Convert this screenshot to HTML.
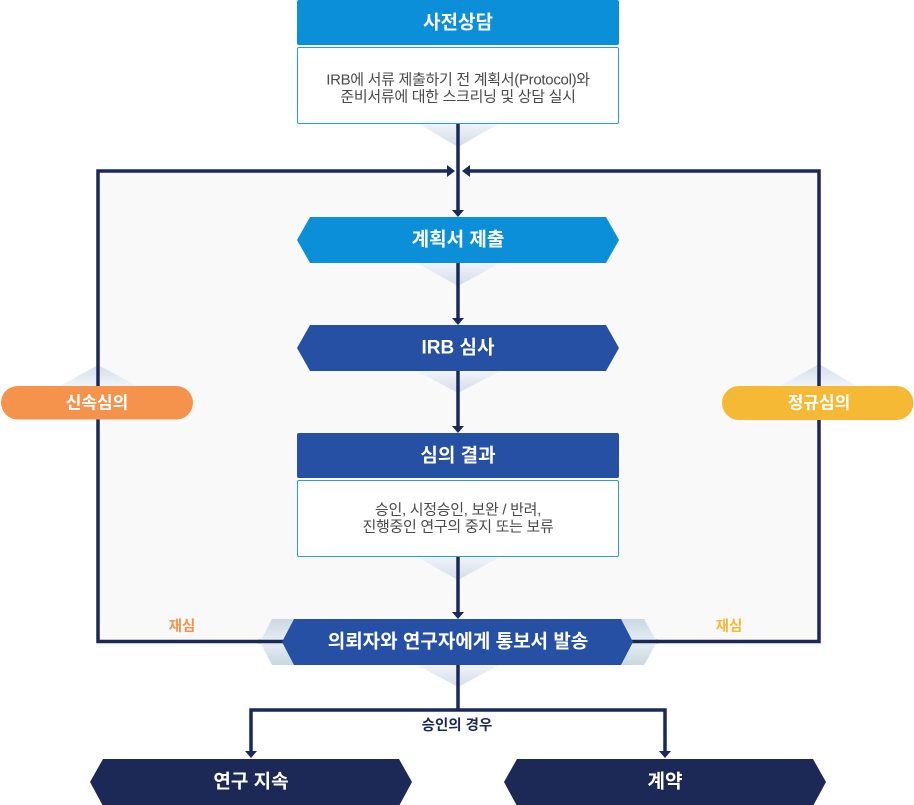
<!DOCTYPE html>
<html><head><meta charset="utf-8"><style>
html,body{margin:0;padding:0;background:#fff;}
svg{display:block;}
text{font-family:"Liberation Sans","Noto Sans CJK KR",sans-serif;}
.h{font-weight:bold;font-size:19px;fill:#fff;}
.b{font-size:15px;fill:#4a4a4a;letter-spacing:-0.3px;}
</style></head><body>
<svg width="914" height="805" viewBox="0 0 914 805" xmlns="http://www.w3.org/2000/svg">
<defs>
<linearGradient id="sh" x1="0" y1="0" x2="0" y2="1">
<stop offset="0" stop-color="#f1f4f9"/><stop offset="1" stop-color="#d3dcea"/>
</linearGradient>
<linearGradient id="sh2" x1="0" y1="1" x2="0" y2="0">
<stop offset="0" stop-color="#f1f4f9"/><stop offset="1" stop-color="#d3dcea"/>
</linearGradient>
<linearGradient id="chev" x1="0" y1="0" x2="0" y2="1">
<stop offset="0" stop-color="#c9d8e2"/><stop offset="0.5" stop-color="#e6eef3"/><stop offset="1" stop-color="#c9d8e2"/>
</linearGradient>
</defs>

<!-- big loop background -->
<rect x="98" y="171" width="721" height="470" fill="#f9f9f9"/>

<!-- shadows -->
<polygon points="417,123 500,123 458,147" fill="url(#sh)"/>
<polygon points="417,263 500,263 458,286" fill="url(#sh)"/>
<polygon points="417,371 500,371 458,393" fill="url(#sh)"/>
<polygon points="417,557 500,557 458,580" fill="url(#sh)"/>
<polygon points="417,665 499,665 458,687" fill="url(#sh)"/>
<polygon points="60,386 137,386 98,365" fill="url(#sh2)"/>
<polygon points="780,386 857,386 819,364" fill="url(#sh2)"/>

<!-- lines -->
<g stroke="#1b2958" stroke-width="3.5" fill="none">
<line x1="458" y1="123" x2="458" y2="211"/>
<path d="M282 641.5 H98 V171 H448"/>
<path d="M633 641.5 H819 V171 H468"/>
<line x1="458" y1="263" x2="458" y2="319"/>
<line x1="458" y1="371" x2="458" y2="427"/>
<line x1="458" y1="557" x2="458" y2="613"/>
<line x1="458" y1="665" x2="458" y2="710"/>
<path d="M251 752 V710 H665 V752"/>
</g>
<g fill="#1b2958">
<polygon points="452,210 464,210 458,217"/>
<polygon points="447,165 447,177 455,171"/>
<polygon points="470,165 470,177 462,171"/>
<polygon points="452,318 464,318 458,325"/>
<polygon points="452,426 464,426 458,433"/>
<polygon points="452,612 464,612 458,619"/>
<polygon points="245,751 257,751 251,758"/>
<polygon points="659,751 671,751 665,758"/>
</g>

<!-- 사전상담 -->
<rect x="297" y="0" width="322" height="45" rx="2" fill="#0a8fd8"/>
<text class="h" x="458" y="23" text-anchor="middle" dominant-baseline="central">사전상담</text>
<rect x="297.5" y="47.5" width="321" height="76" rx="1.5" fill="#fff" stroke="#2a9cd9" stroke-width="1"/>
<text class="b" x="458" y="80" text-anchor="middle" dominant-baseline="central">IRB에 서류 제출하기 전 계획서(Protocol)와</text>
<text class="b" x="458" y="97" text-anchor="middle" dominant-baseline="central">준비서류에 대한 스크리닝 및 상담 실시</text>

<!-- 계획서 제출 -->
<polygon points="297,240 310,217 606,217 619,240 606,263 310,263" fill="#0a8fd8"/>
<text class="h" x="458" y="240" text-anchor="middle" dominant-baseline="central">계획서 제출</text>

<!-- IRB 심사 -->
<polygon points="297,348 310,325 606,325 619,348 606,371 310,371" fill="#2550a4"/>
<text class="h" x="458" y="348" text-anchor="middle" dominant-baseline="central">IRB 심사</text>

<!-- 심의 결과 -->
<rect x="297" y="433" width="322" height="45" rx="2" fill="#2550a4"/>
<text class="h" x="458" y="456" text-anchor="middle" dominant-baseline="central">심의 결과</text>
<rect x="297.5" y="480.5" width="321" height="76" rx="1.5" fill="#fff" stroke="#2a9cd9" stroke-width="1"/>
<text class="b" x="458" y="510" text-anchor="middle" dominant-baseline="central">승인, 시정승인, 보완 / 반려,</text>
<text class="b" x="458" y="527" text-anchor="middle" dominant-baseline="central">진행중인 연구의 중지 또는 보류</text>

<!-- 의뢰자 -->
<polygon points="260,642 272,619 644,619 657,642 644,665 272,665" fill="url(#chev)"/>
<g stroke="#1b2958" stroke-width="3.5"><line x1="258" y1="641.5" x2="284" y2="641.5"/><line x1="632" y1="641.5" x2="658" y2="641.5"/></g>
<polygon points="282,642 294,619 621,619 633,642 621,665 294,665" fill="#2550a4"/>
<text class="h" x="458" y="642" text-anchor="middle" dominant-baseline="central" style="font-size:19px">의뢰자와 연구자에게 통보서 발송</text>

<!-- 재심 -->
<text x="182" y="627" text-anchor="middle" dominant-baseline="central" style="font-weight:bold;font-size:14.5px;fill:#f5924c">재심</text>
<text x="729" y="627" text-anchor="middle" dominant-baseline="central" style="font-weight:bold;font-size:14.5px;fill:#f5b935">재심</text>

<!-- pills -->
<rect x="1" y="386" width="192" height="33.5" rx="16.75" fill="#f5924c"/>
<text x="97" y="403" text-anchor="middle" dominant-baseline="central" style="font-weight:bold;font-size:17px;fill:#fff">신속심의</text>
<rect x="722" y="386" width="191.5" height="34" rx="17" fill="#f5b935"/>
<text x="819" y="403" text-anchor="middle" dominant-baseline="central" style="font-weight:bold;font-size:17px;fill:#fff">정규심의</text>

<!-- 승인의 경우 -->
<text x="457" y="726" text-anchor="middle" dominant-baseline="central" style="font-weight:bold;font-size:14.5px;fill:#1b2958">승인의 경우</text>

<!-- bottom nodes -->
<polygon points="90,782 103,759 399,759 412,782 399,806 103,806" fill="#1c2957"/>
<text class="h" x="251" y="782" text-anchor="middle" dominant-baseline="central">연구 지속</text>
<polygon points="504,782 517,759 813,759 826,782 813,806 517,806" fill="#1c2957"/>
<text class="h" x="665" y="782" text-anchor="middle" dominant-baseline="central">계약</text>
</svg>
</body></html>
